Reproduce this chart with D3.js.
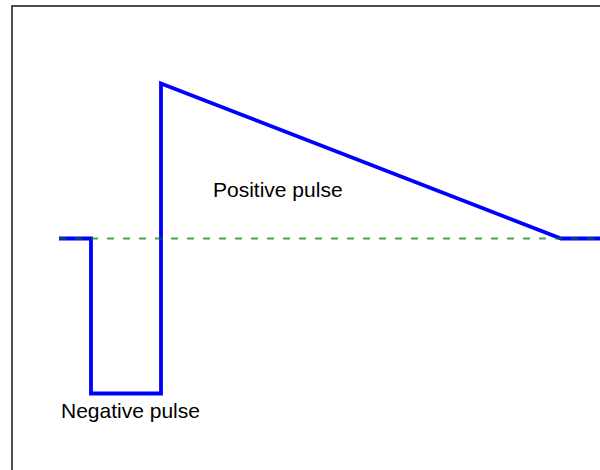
<!DOCTYPE html>
<html lang="en">
<head>
<meta charset="UTF-8">
<title>Pulse</title>
<script src="https://cdn.jsdelivr.net/npm/d3@7/dist/d3.min.js"></script>
<style>
  body { margin: 0; background: #fff; }
  svg { display: block; font-family: "Liberation Sans", Arial, sans-serif; }
</style>
</head>
<body>
<script>
// waveform: time (ms) and amplitude
var times = [0, 0.8, 0.8, 2.55, 2.55, 12.55, 14];
var amps  = [0, 0, -1, -1, 1, 0, 0];

// annotations
var labels = ["Positive pulse", "Negative pulse"];
var labelX = [3.85, 0.05];
var labelY = [0.27, -1.155];

var w = 600, h = 470;

var svg = d3.select('body').append('svg')
  .attr('width', w)
  .attr('height', h);

// axes box runs off the right / bottom edge
var xScale = d3.scaleLinear().domain([-1.175, 14.5]).range([12, 639]);
var yScale = d3.scaleLinear().domain([-1.5, 1.5]).range([471, 6]);

var pts = times.map((t, i) => [t, amps[i]]);

var line = d3.line()
  .x(d => xScale(d[0]))
  .y(d => yScale(d[1]));

svg.append('path')
  .datum(pts)
  .attr('d', line)
  .attr('fill', 'none')
  .attr('stroke', '#0000ff')
  .attr('stroke-width', 3.8)
  .attr('stroke-linejoin', 'miter');

// zero reference
svg.append('path')
  .datum([[times[0], 0], [times[times.length - 1], 0]])
  .attr('d', line)
  .attr('stroke', 'green')
  .attr('stroke-opacity', 0.7)
  .attr('stroke-width', 2)
  .attr('stroke-dasharray', '7,9');

svg.selectAll('text.lbl')
  .data(labels)
  .enter()
  .append('text')
  .attr('class', 'lbl')
  .attr('x', (d, i) => xScale(labelX[i]))
  .attr('y', (d, i) => yScale(labelY[i]))
  .attr('font-size', '21px')
  .attr('fill', '#000')
  .text(d => d);

// frame
svg.append('rect')
  .attr('x', xScale.range()[0])
  .attr('y', yScale.range()[1])
  .attr('width', xScale.range()[1] - xScale.range()[0])
  .attr('height', yScale.range()[0] - yScale.range()[1])
  .attr('fill', 'none')
  .attr('stroke', '#222')
  .attr('stroke-width', 1.6);
</script>
</body>
</html>
